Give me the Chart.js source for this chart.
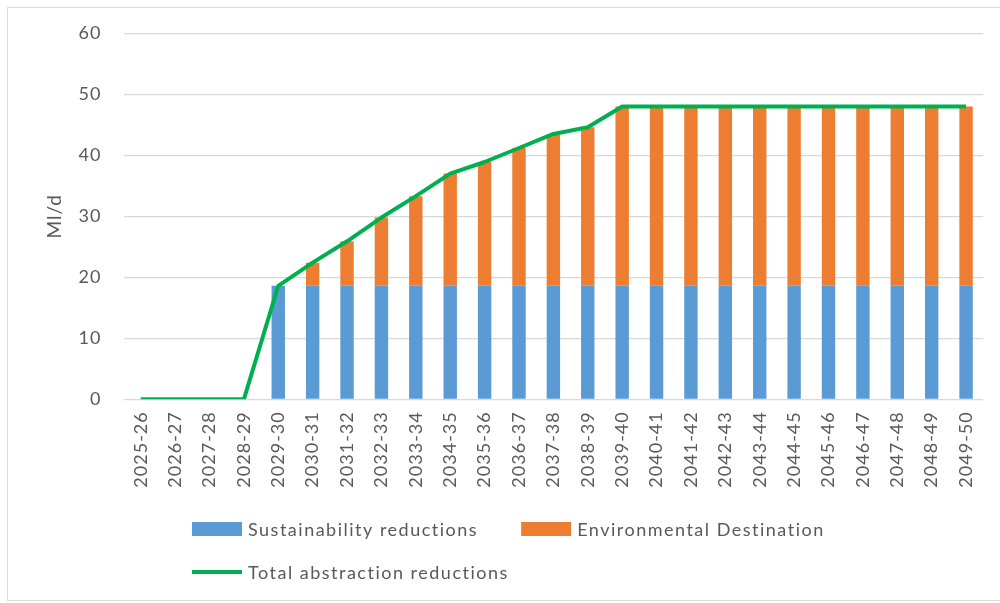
<!DOCTYPE html>
<html>
<head>
<meta charset="utf-8">
<script src="https://cdn.jsdelivr.net/npm/chart.js@4.4.1/dist/chart.umd.min.js"></script>
<style>
  html, body { margin: 0; padding: 0; background: #ffffff; }
  #wrap { position: relative; width: 1000px; height: 603px; }
  canvas { display: block; }
</style>
</head>
<body>
<div id="wrap"><canvas id="chart" width="1000" height="603"></canvas></div>
<script>
// Financial years shown along the x axis
const years = [
  '2025-26', '2026-27', '2027-28', '2028-29', '2029-30', '2030-31', '2031-32',
  '2032-33', '2033-34', '2034-35', '2035-36', '2036-37', '2037-38', '2038-39',
  '2039-40', '2040-41', '2041-42', '2042-43', '2043-44', '2044-45', '2045-46',
  '2046-47', '2047-48', '2048-49', '2049-50'
];

// Reductions in Ml/d
const sustainabilityReductions = [
  0, 0, 0, 0, 18.6, 18.6, 18.6, 18.6, 18.6, 18.6, 18.6, 18.6, 18.6,
  18.6, 18.6, 18.6, 18.6, 18.6, 18.6, 18.6, 18.6, 18.6, 18.6, 18.6, 18.6
];
const environmentalDestination = [
  0, 0, 0, 0, 0, 3.8, 7.3, 11.2, 14.7, 18.4, 20.3, 22.6, 24.9,
  26.0, 29.4, 29.4, 29.4, 29.4, 29.4, 29.4, 29.4, 29.4, 29.4, 29.4, 29.4
];
const totalAbstractionReductions = [
  0, 0, 0, 0, 18.6, 22.4, 25.9, 29.8, 33.3, 37.0, 38.9, 41.2, 43.5,
  44.6, 48, 48, 48, 48, 48, 48, 48, 48, 48, 48, 48
];

// Y axis ticks
const yTicks = [0, 10, 20, 30, 40, 50, 60];

const TEXT = '#595959';
const FONT = 'Lato, "Liberation Sans", sans-serif';

// Thin frame around the chart object, plus a little letter spacing for all text
const framePlugin = {
  id: 'frame',
  beforeDraw(chart) {
    const ctx = chart.ctx;
    ctx.letterSpacing = '1px';
    ctx.save();
    ctx.strokeStyle = '#d9d9d9';
    ctx.lineWidth = 1;
    ctx.beginPath();
    ctx.moveTo(1005, 7.5);
    ctx.lineTo(7.5, 7.5);
    ctx.lineTo(7.5, 600.5);
    ctx.lineTo(1005, 600.5);
    ctx.stroke();
    ctx.restore();
  }
};

// Left-aligned legend, two entries per row
const legendPlugin = {
  id: 'leftLegend',
  afterDraw(chart) {
    const ctx = chart.ctx;
    const sets = chart.data.datasets;
    const startX = 192, rowY = [529, 572], swatchW = 50, swatchH = 14, textGap = 6, itemGap = 43;
    ctx.save();
    ctx.font = '18px ' + FONT;
    ctx.letterSpacing = '1.5px';
    ctx.fillStyle = TEXT;
    ctx.textBaseline = 'middle';
    ctx.textAlign = 'left';
    let x = startX, row = 0, inRow = 0;
    sets.forEach((ds) => {
      if (inRow === 2) { row++; inRow = 0; x = startX; }
      const y = rowY[row];
      if (ds.type === 'line') {
        ctx.strokeStyle = ds.borderColor;
        ctx.lineWidth = 4;
        ctx.beginPath();
        ctx.moveTo(x, y);
        ctx.lineTo(x + swatchW, y);
        ctx.stroke();
      } else {
        ctx.fillStyle = ds.backgroundColor;
        ctx.fillRect(x, y - swatchH / 2, swatchW, swatchH);
      }
      ctx.fillStyle = TEXT;
      ctx.fillText(ds.label, x + swatchW + textGap, y + 1);
      x += swatchW + textGap + ctx.measureText(ds.label).width + itemGap;
      inRow++;
    });
    ctx.restore();
  }
};

new Chart(document.getElementById('chart'), {
  data: {
    labels: years,
    datasets: [
      {
        type: 'bar',
        label: 'Sustainability reductions',
        data: sustainabilityReductions,
        backgroundColor: '#5b9bd5',
        stack: 'reductions',
        order: 1,
        categoryPercentage: 1,
        barPercentage: 0.39
      },
      {
        type: 'bar',
        label: 'Environmental Destination',
        data: environmentalDestination,
        backgroundColor: '#ed7d31',
        stack: 'reductions',
        order: 1,
        categoryPercentage: 1,
        barPercentage: 0.39
      },
      {
        type: 'line',
        label: 'Total abstraction reductions',
        data: totalAbstractionReductions,
        borderColor: '#00b050',
        backgroundColor: '#00b050',
        borderWidth: 4,
        pointRadius: 0,
        pointHoverRadius: 0,
        tension: 0,
        borderJoinStyle: 'round',
        stack: 'total',
        order: 0
      }
    ]
  },
  options: {
    responsive: false,
    animation: false,
    layout: { padding: { left: 0, right: 16.5, top: 33.3, bottom: 0 } },
    plugins: {
      legend: { display: false },
      tooltip: { enabled: false }
    },
    scales: {
      x: {
        stacked: true,
        offset: true,
        grid: { display: false, drawTicks: false },
        border: { display: false },
        ticks: {
          color: TEXT,
          font: { family: FONT, size: 18 },
          minRotation: 90,
          maxRotation: 90,
          autoSkip: false,
          padding: 12
        },
        afterFit(scale) { scale.height = 603 - 399.3; }
      },
      y: {
        stacked: true,
        min: yTicks[0],
        max: yTicks[yTicks.length - 1],
        afterBuildTicks(scale) { scale.ticks = yTicks.map(v => ({ value: v })); },
        grid: { color: '#d9d9d9', lineWidth: 1.2, drawTicks: false },
        border: { display: false },
        ticks: {
          color: TEXT,
          font: { family: FONT, size: 18 },
          padding: 22
        },
        title: {
          display: true,
          text: 'Ml/d',
          color: TEXT,
          font: { family: FONT, size: 19 },
          padding: { top: 43, bottom: 0 }
        },
        afterFit(scale) { scale.width = 123.5; }
      }
    }
  },
  plugins: [framePlugin, legendPlugin]
});
</script>
</body>
</html>
